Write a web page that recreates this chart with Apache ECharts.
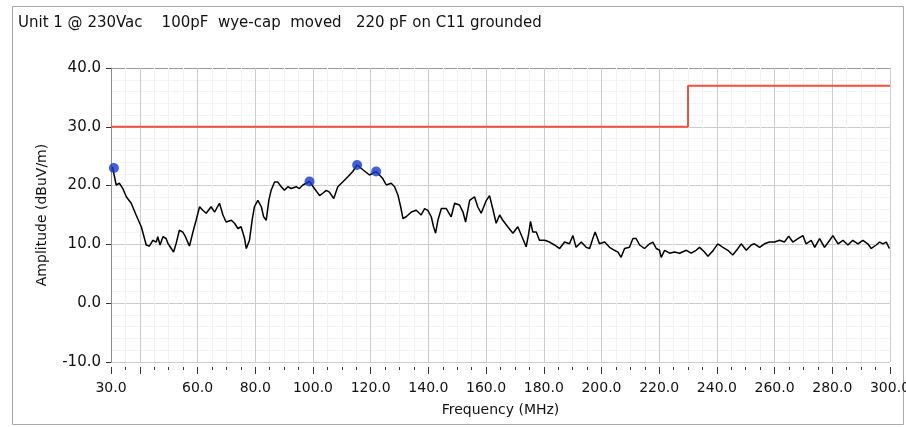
<!DOCTYPE html>
<html>
<head>
<meta charset="utf-8">
<script src="https://cdn.jsdelivr.net/npm/echarts@6/dist/echarts.min.js"></script>
<style>
  html, body { margin: 0; padding: 0; background: #ffffff; }
  #chart { width: 906px; height: 427px; }
</style>
</head>
<body>
<div id="chart"></div>
<script>
// Scan header
const titleText = 'Unit 1 @ 230Vac    100pF  wye-cap  moved   220 pF on C11 grounded';

// Measured emission trace (MHz, dBuV/m)
const freqMHz = [
  30.5, 31.0, 31.8, 32.9, 34.1, 35.3, 37.0, 38.7, 40.5, 41.6, 42.2, 43.3, 44.5, 45.7, 46.2, 47.0,
  48.0, 49.1, 49.7, 50.9, 51.7, 52.6, 53.7, 54.9, 55.8, 57.2, 58.4, 59.5, 60.7, 61.8, 63.0, 64.7,
  65.9, 67.6, 68.8, 69.9, 71.7, 72.8, 74.0, 75.1, 76.3, 76.9, 78.0, 78.9, 79.7, 80.9, 82.1, 82.9,
  83.8, 84.7, 85.5, 86.7, 87.8, 89.0, 90.1, 91.3, 92.5, 94.2, 95.3, 96.5, 98.8, 100.5, 102.3, 103.4,
  104.6, 105.7, 107.2, 108.6, 110.3, 112.1, 113.8, 115.3, 117.3, 119.6, 121.9, 124.2, 125.4, 127.1,
  128.3, 129.5, 130.4, 131.2, 132.3, 134.1, 135.8, 137.5, 138.7, 139.8, 141.0, 141.8, 142.5, 143.3,
  144.5, 146.2, 147.9, 149.1, 150.8, 152.0, 152.9, 154.3, 156.0, 157.1, 158.3, 160.1, 161.2, 162.3,
  163.5, 164.7, 165.8, 167.5, 169.3, 171.0, 172.7, 173.9, 174.8, 175.4, 176.2, 177.4, 178.5, 180.3,
  182.0, 183.7, 185.5, 187.2, 188.9, 190.1, 191.2, 193.0, 194.7, 195.9, 197.0, 197.8, 199.3, 201.1,
  202.8, 204.5, 205.7, 206.8, 208.0, 209.7, 210.9, 212.0, 213.2, 214.9, 216.7, 217.8, 219.0, 220.1,
  220.7, 221.9, 223.6, 225.3, 227.1, 229.4, 231.1, 232.8, 234.0, 235.7, 236.9, 238.6, 240.3, 242.1,
  243.8, 245.5, 247.3, 248.4, 250.2, 251.9, 253.0, 254.8, 256.5, 258.2, 260.0, 261.7, 263.4, 264.9,
  266.3, 268.1, 269.8, 270.9, 272.7, 273.9, 275.6, 277.3, 279.1, 280.2, 282.0, 283.7, 285.4, 287.1,
  288.9, 290.6, 292.3, 293.5, 295.2, 296.4, 297.5, 298.7, 299.8
];
const ampDb = [
  23.2, 23.0, 20.1, 20.4, 19.5, 18.1, 17.0, 15.0, 13.0, 11.0, 9.9, 9.7, 10.7, 10.4, 11.3, 9.9,
  11.3, 11.0, 10.2, 9.3, 8.7, 10.2, 12.4, 12.1, 11.3, 9.7, 12.1, 14.1, 16.4, 15.8, 15.3, 16.4,
  15.5, 17.0, 15.0, 13.8, 14.1, 13.6, 12.7, 13.0, 11.0, 9.3, 10.7, 14.1, 16.4, 17.5, 16.4, 14.7,
  14.1, 17.5, 19.2, 20.6, 20.6, 19.8, 19.2, 19.8, 19.5, 19.8, 19.5, 20.1, 20.7, 19.5, 18.3, 18.7,
  19.2, 18.9, 17.8, 19.8, 20.6, 21.5, 22.4, 23.5, 22.7, 21.8, 22.4, 21.2, 20.1, 20.4,
  19.8, 18.3, 16.4, 14.4, 14.7, 15.5, 15.8, 15.0, 16.1, 15.8, 14.7, 13.0, 11.9, 14.1,
  16.1, 16.1, 14.7, 17.0, 16.7, 15.5, 13.8, 17.5, 18.1, 16.4, 15.3, 17.5, 18.3, 16.1,
  13.6, 15.0, 14.1, 13.0, 11.9, 13.0, 11.0, 9.6, 11.9, 13.9, 12.1, 12.1, 10.7, 10.7,
  10.4, 9.9, 9.3, 10.4, 10.1, 11.5, 9.5, 10.4, 9.5, 9.3, 11.0, 12.1, 10.1, 10.4,
  9.5, 9.0, 8.7, 7.8, 9.3, 9.5, 11.0, 11.0, 9.9, 9.3, 10.1, 10.4, 9.3, 9.0,
  7.8, 9.0, 8.5, 8.7, 8.5, 9.0, 8.5, 9.0, 9.5, 8.7, 8.0, 8.9, 10.1, 9.5,
  9.0, 8.2, 9.3, 10.1, 9.0, 9.9, 10.1, 9.5, 10.1, 10.4, 10.4, 10.7, 10.4, 11.4,
  10.4, 11.0, 11.5, 10.1, 10.7, 9.5, 11.0, 9.5, 10.7, 11.5, 10.1, 10.7, 9.9, 10.7,
  10.1, 10.7, 10.1, 9.3, 9.9, 10.4, 10.1, 10.4, 9.3
];

// Peak markers
const peakFreq = [31.0, 98.8, 115.3, 121.9];
const peakAmp = [23.0, 20.7, 23.5, 22.4];

// Radiated emission limit
const limitFreq = [30, 230, 230, 300];
const limitAmp = [30, 30, 37, 37];

// Axis ticks and labels
const xLabelValues = [30, 60, 80, 100, 120, 140, 160, 180, 200, 220, 240, 260, 280, 300];
const xMajorTickValues = [30, 40, 60, 80, 100, 120, 140, 160, 180, 200, 220, 240, 260, 280, 300];

const zip = (xs, ys) => xs.map((x, i) => [x, ys[i]]);

const FONT = 'DejaVu Sans';
const chart = echarts.init(document.getElementById('chart'), null, { renderer: 'canvas' });

const baseX = { type: 'value', min: 30, max: 300, gridIndex: 0 };

chart.setOption({
  animation: false,
  backgroundColor: '#ffffff',
  graphic: [
    {
      type: 'rect', silent: true, z: -1,
      shape: { x: 12.5, y: 6.5, width: 891, height: 418 },
      style: { fill: 'none', stroke: '#a8a8a8', lineWidth: 1 }
    },
    {
      type: 'text', left: 18, top: 16,
      style: { text: titleText, font: '15px "' + FONT + '"', fill: '#111' }
    }
  ],
  grid: { left: 111, right: 16, top: 68, bottom: 65, outerBoundsMode: 'none', containLabel: false },
  xAxis: [
    // grid lines (major every 20 MHz, faint minors)
    Object.assign({}, baseX, {
      interval: 10,
      axisLine: { show: false },
      axisTick: { show: false },
      axisLabel: { show: false },
      splitLine: { show: true, lineStyle: { color: ['#f2f2f2', '#cccccc'], width: 1 } },
      minorTick: { show: false, splitNumber: 2 },
      minorSplitLine: { show: true, lineStyle: { color: '#f2f2f2', width: 1 } }
    }),
    // minor ticks every 5 MHz
    Object.assign({}, baseX, {
      interval: 5, offset: 5, position: 'bottom',
      axisLine: { show: false },
      axisTick: { show: true, length: 3, lineStyle: { color: '#333', width: 1 } },
      axisLabel: { show: false },
      splitLine: { show: false }
    }),
    // major ticks, labels and axis title
    Object.assign({}, baseX, {
      interval: 10, offset: 5, position: 'bottom',
      axisLine: { show: false },
      axisTick: { show: true, length: 7, customValues: xMajorTickValues, lineStyle: { color: '#333', width: 1 } },
      axisLabel: {
        show: true, customValues: xLabelValues, margin: 14,
        fontFamily: FONT, fontSize: 14, color: '#111',
        formatter: v => (xLabelValues.indexOf(v) >= 0 ? v.toFixed(1) : '')
      },
      splitLine: { show: false },
      name: 'Frequency (MHz)', nameLocation: 'middle', nameGap: 36,
      nameTextStyle: { fontFamily: FONT, fontSize: 14, color: '#111' }
    })
  ],
  yAxis: {
    type: 'value', min: -10, max: 40, interval: 10,
    axisLine: { show: true, lineStyle: { color: '#8c8c8c', width: 1 } },
    axisTick: { show: true, length: 5, lineStyle: { color: '#333' } },
    axisLabel: {
      fontFamily: FONT, fontSize: 15, color: '#111', margin: 10,
      formatter: v => v.toFixed(1)
    },
    splitLine: { show: true, lineStyle: { color: ['#cccccc', '#cccccc', '#cccccc', '#cccccc', '#cccccc', '#9a9a9a'], width: 1 } },
    minorTick: { show: false, splitNumber: 5 },
    minorSplitLine: { show: true, lineStyle: { color: '#f3f3f3', width: 1 } },
    name: 'Amplitude (dBuV/m)', nameLocation: 'middle', nameGap: 62,
    nameTextStyle: { fontFamily: FONT, fontSize: 14, color: '#111' }
  },
  series: [
    {
      name: 'Limit', type: 'line', xAxisIndex: 0, data: zip(limitFreq, limitAmp),
      showSymbol: false, symbol: 'none',
      lineStyle: { color: '#f0503c', width: 2 }, z: 3
    },
    {
      name: 'Trace', type: 'line', xAxisIndex: 0, data: zip(freqMHz, ampDb),
      showSymbol: false, symbol: 'none',
      lineStyle: { color: '#000000', width: 1.5 }, z: 4
    },
    {
      name: 'Peaks', type: 'scatter', xAxisIndex: 0, data: zip(peakFreq, peakAmp),
      symbol: 'circle', symbolSize: 10,
      itemStyle: { color: '#1438cc' }, z: 5
    }
  ]
});
</script>
</body>
</html>
